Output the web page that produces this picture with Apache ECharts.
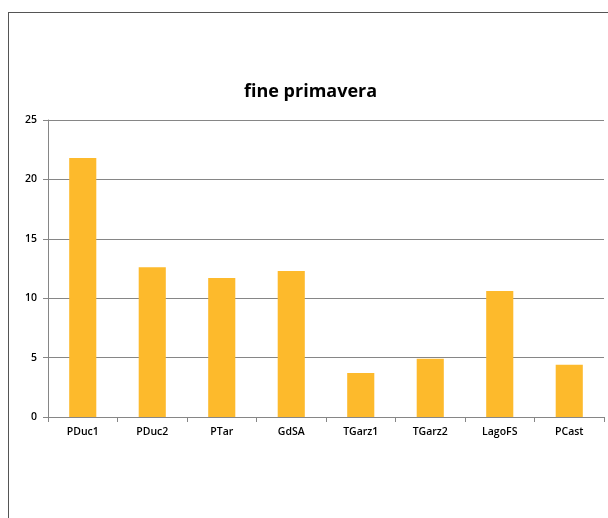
<!DOCTYPE html>
<html><head><meta charset="utf-8">
<script src="https://cdn.jsdelivr.net/npm/echarts@6/dist/echarts.min.js"></script>
<style>
html,body{margin:0;padding:0;background:#fff;overflow:hidden;}
#c{position:absolute;left:0;top:0;width:608px;height:518px;}
#frame{position:absolute;left:8px;top:12px;width:700px;height:700px;border:1px solid #555;box-sizing:border-box;pointer-events:none;}
</style></head>
<body>
<div id="c"></div>
<div id="frame"></div>
<script>
const titleText = 'fine primavera';
const categories = ['PDuc1','PDuc2','PTar','GdSA','TGarz1','TGarz2','LagoFS','PCast'];
const values = [21.8, 12.6, 11.7, 12.3, 3.7, 4.9, 10.6, 4.4];
const yTicks = [0,5,10,15,20,25];

const chart = echarts.init(document.getElementById('c'));
chart.setOption({
  animation:false,
  backgroundColor:'#fff',
  title:{text:titleText,left:239,top:78,
    textStyle:{fontFamily:'Open Sans',fontSize:18,fontWeight:'bold',color:'#000'}},
  grid:{left:48,right:4,top:120,bottom:101,containLabel:false},
  xAxis:{type:'category',data:categories,
    axisLine:{lineStyle:{color:'#868686'}},
    axisTick:{show:true,alignWithLabel:false,length:5,lineStyle:{color:'#868686'}},
    axisLabel:{fontFamily:'Open Sans',fontSize:10.5,color:'#000',fontWeight:600,margin:10}},
  yAxis:{type:'value',min:yTicks[0],max:yTicks[yTicks.length-1],interval:5,
    axisLine:{show:true,lineStyle:{color:'#868686'}},
    axisTick:{show:true,length:5,lineStyle:{color:'#868686'}},
    splitLine:{lineStyle:{color:'#868686'}},
    axisLabel:{fontFamily:'Open Sans',fontSize:10.5,color:'#000',fontWeight:600,margin:11}},
  series:[{type:'bar',data:values,barWidth:'39%',
    itemStyle:{color:'#FDBA2C'}}]
});
</script>
</body></html>
